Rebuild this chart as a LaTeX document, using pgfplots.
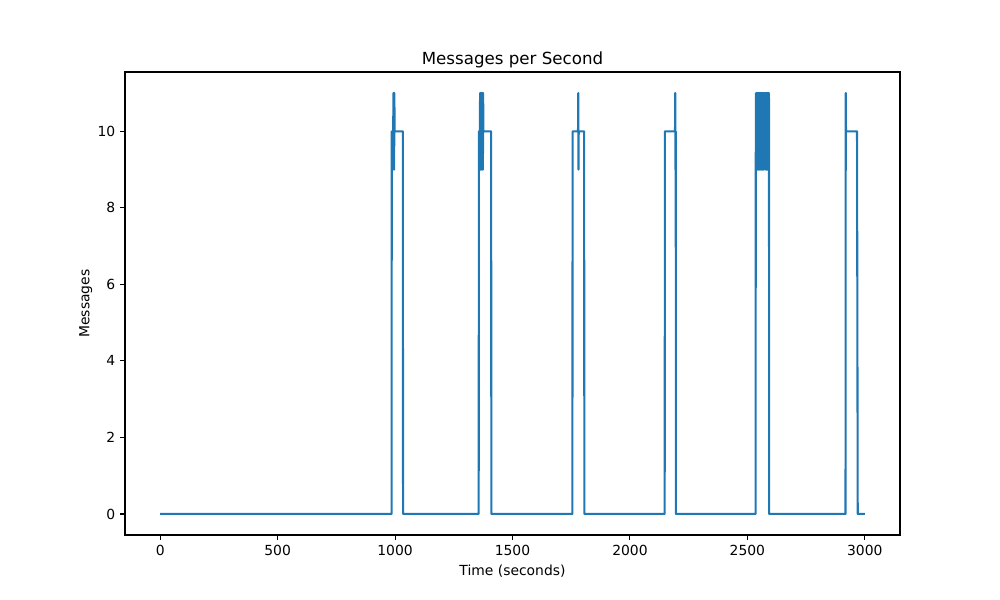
\documentclass[border=0pt]{standalone}
\usepackage{pgfplots}
\pgfplotsset{compat=1.18}
\usepackage{fontspec}
\setmainfont{DejaVu Sans}
\definecolor{mplblue}{HTML}{1F77B4}
\begin{document}
\begin{tikzpicture}
\path[use as bounding box] (-90bp,-46.8bp) rectangle (630bp,385.2bp);
\begin{axis}[
  at={(0,0)}, anchor=south west,
  scale only axis,
  width=558bp, height=333.36bp,
  xmin=-150, xmax=3150, ymin=-0.55, ymax=11.55,
  xtick={0,500,1000,1500,2000,2500,3000},
  ytick={0,2,4,6,8,10},
  tick align=outside, tick pos=left,
  major tick length=3.5bp,
  tick style={black, line width=0.8bp},
  axis line style={line width=0.8bp},
  /pgf/number format/assume math mode=true,
  /pgf/number format/1000 sep={},
  tick label style={font=\fontsize{10bp}{12bp}\selectfont},
  label style={font=\fontsize{10bp}{12bp}\selectfont},
  title style={font=\fontsize{12bp}{14bp}\selectfont, yshift=-6.8bp},
  title={Messages per Second},
  xlabel={Time (seconds)},
  ylabel={Messages},
  xlabel style={yshift=0pt},
  ylabel style={yshift=-3pt},
]
\addplot[mplblue, line width=1.5bp, line join=round, mark=none] coordinates {
(0,0) (985,0) (986,10) (992,10) (993,11) (994,9) (995,11) (996,9) (997,11) (998,10) (1033,10) (1034,0)
(1356,0) (1357,10) (1361,10) (1362,11) (1363,9) (1364,11) (1365,9) (1366,11) (1367,10) (1368,11) (1369,9) (1370,11) (1371,9) (1372,10) (1373,11) (1374,9) (1375,11) (1376,10) (1409,10) (1410,0)
(1755,0) (1756,10) (1779,10) (1780,11) (1781,9) (1782,10) (1805,10) (1806,0)
(2148,0) (2149,10) (2192,10) (2193,11) (2194,9) (2195,10) (2196,0)
(2535,0) (2536,10) (2537,11) (2538,9) (2539,11) (2540,10) (2541,9) (2542,11) (2543,9) (2544,11) (2545,10) (2546,11) (2547,9) (2548,11) (2549,9) (2550,11) (2551,10) (2552,9) (2553,11) (2554,9) (2555,11) (2556,10) (2557,11) (2558,9) (2559,11) (2560,9) (2561,11) (2562,10) (2563,9) (2564,11) (2565,9) (2566,11) (2567,10) (2568,11) (2569,9) (2570,11) (2571,9) (2572,11) (2573,10) (2574,10) (2575,10) (2576,10) (2577,11) (2578,9) (2579,11) (2580,9) (2581,11) (2582,10) (2583,9) (2584,11) (2585,9) (2586,11) (2587,10) (2588,11) (2589,9) (2590,11) (2591,9) (2592,11) (2593,0)
(2918,0) (2919,11) (2920,10) (2967,10) (2970,0) (3000,0)
};
\end{axis}
\end{tikzpicture}
\end{document}
